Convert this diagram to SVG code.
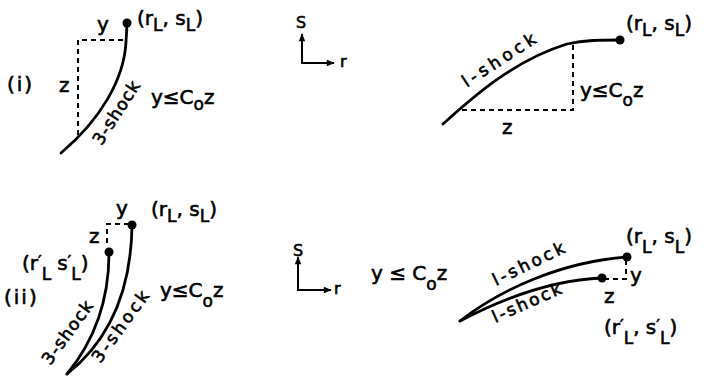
<svg xmlns="http://www.w3.org/2000/svg" width="704" height="383" viewBox="0 0 704 383">
<defs>
<marker id="ah" viewBox="0 0 10 10" refX="9" refY="5" markerWidth="9" markerHeight="8" orient="auto" markerUnits="userSpaceOnUse">
<path d="M0,1 L10,5 L0,9 Z" fill="#000"/>
</marker>
<style>
text{font-family:"DejaVu Sans","Liberation Sans",sans-serif;fill:#000;font-size:20px;stroke:#000;stroke-width:0.6}
.lab{font-size:17px}
.ax{font-size:16px}
.sub{font-size:17px}
.pr{font-size:16px}
.shock{fill:none;stroke:#000;stroke-width:2.8;stroke-linecap:round}
.dash{fill:none;stroke:#000;stroke-width:2;stroke-dasharray:5,4}
.axis{fill:none;stroke:#000;stroke-width:2}
</style>
</defs>
<rect width="704" height="383" fill="#fff"/>

<g id="panel-i-left">
<path class="shock" d="M127,24 L126,42 C124,80 100,120 61,153"/>
<path class="dash" d="M123,40 H78 V137"/>
<circle cx="127" cy="23" r="4.5"/>
<text x="97" y="31">y</text>
<text x="137" y="25">(r<tspan class="sub" dy="6">L</tspan><tspan dy="-6">, s</tspan><tspan class="sub" dy="6">L</tspan><tspan dy="-6">)</tspan></text>
<text x="7" y="91" letter-spacing="2">(i)</text>
<text x="59" y="92">z</text>
<text class="lab" transform="translate(121,116) rotate(-57)" text-anchor="middle" textLength="72" lengthAdjust="spacing">3-shock</text>
<text x="151" y="104">y≤C<tspan class="sub" dy="6">o</tspan><tspan dy="-6">z</tspan></text>
</g>

<g id="panel-i-right">
<path class="axis" d="M302,63 V34" marker-end="url(#ah)"/>
<path class="axis" d="M301,63 H334" marker-end="url(#ah)"/>
<text class="ax" x="296" y="28">S</text>
<text class="ax" x="340" y="67">r</text>
<path class="shock" d="M443,124 C475,95 515,60 567,44 C585,40 600,40 620,40"/>
<path class="dash" d="M573,45 V110 H460"/>
<circle cx="620" cy="40" r="4.5"/>
<text class="lab" transform="translate(502,65) rotate(-33)" text-anchor="middle" textLength="84" lengthAdjust="spacing">l-shock</text>
<text x="502" y="134">z</text>
<text x="580" y="97">y≤C<tspan class="sub" dy="9">o</tspan><tspan dy="-9">z</tspan></text>
<text x="626" y="30">(r<tspan class="sub" dy="6">L</tspan><tspan dy="-6">, s</tspan><tspan class="sub" dy="6">L</tspan><tspan dy="-6">)</tspan></text>
</g>

<g id="panel-ii-left">
<path class="shock" d="M132,226 C131,290 110,340 67,374"/>
<path class="shock" d="M109,253 C109,300 95,340 67,374"/>
<path class="dash" d="M129,224 H107 V245"/>
<circle cx="132" cy="225" r="4.5"/>
<circle cx="109" cy="252" r="4.5"/>
<text x="116" y="215">y</text>
<text x="89" y="243">z</text>
<text x="151" y="216">(r<tspan class="sub" dy="6">L</tspan><tspan dy="-6">, s</tspan><tspan class="sub" dy="6">L</tspan><tspan dy="-6">)</tspan></text>
<text x="22" y="270">(r<tspan class="pr" dy="-3">′</tspan><tspan class="sub" dy="13">L</tspan><tspan dy="-10" dx="6">s</tspan><tspan class="pr" dy="-3">′</tspan><tspan class="sub" dy="13">L</tspan><tspan dy="-10">)</tspan></text>
<text x="4" y="304" letter-spacing="2">(ii)</text>
<text x="160" y="297">y≤C<tspan class="sub" dy="10">o</tspan><tspan dy="-10">z</tspan></text>
<text class="lab" transform="translate(72,336) rotate(-54)" text-anchor="middle" textLength="74" lengthAdjust="spacing">3-shock</text>
<text class="lab" transform="translate(125,330) rotate(-54)" text-anchor="middle" textLength="84" lengthAdjust="spacing">3-shock</text>
</g>

<g id="panel-ii-right">
<path class="axis" d="M298,290 V257" marker-end="url(#ah)"/>
<path class="axis" d="M297,290 H331" marker-end="url(#ah)"/>
<text class="ax" x="293" y="256">S</text>
<text class="ax" x="334" y="294">r</text>
<text x="371" y="280">y ≤ C<tspan class="sub" dy="10">o</tspan><tspan dy="-10">z</tspan></text>
<path class="shock" d="M460,321 C500,290 560,262 627,257"/>
<path class="shock" d="M460,321 C500,300 550,280 602,278"/>
<path class="dash" d="M626,260 V279 H606"/>
<circle cx="627" cy="257" r="4.5"/>
<circle cx="602" cy="278" r="4.5"/>
<text class="lab" transform="translate(531,269) rotate(-26)" text-anchor="middle" textLength="78" lengthAdjust="spacing">l-shock</text>
<text class="lab" transform="translate(529,308) rotate(-24)" text-anchor="middle" textLength="74" lengthAdjust="spacing">l-shock</text>
<text x="630" y="282">y</text>
<text x="604" y="303">z</text>
<text x="626" y="243">(r<tspan class="sub" dy="10">L</tspan><tspan dy="-10">, s</tspan><tspan class="sub" dy="10">L</tspan><tspan dy="-10">)</tspan></text>
<text x="604" y="334">(r<tspan class="pr" dy="-3">′</tspan><tspan class="sub" dy="13">L</tspan><tspan dy="-10">, s</tspan><tspan class="pr" dy="-3">′</tspan><tspan class="sub" dy="13">L</tspan><tspan dy="-10">)</tspan></text>
</g>
</svg>
